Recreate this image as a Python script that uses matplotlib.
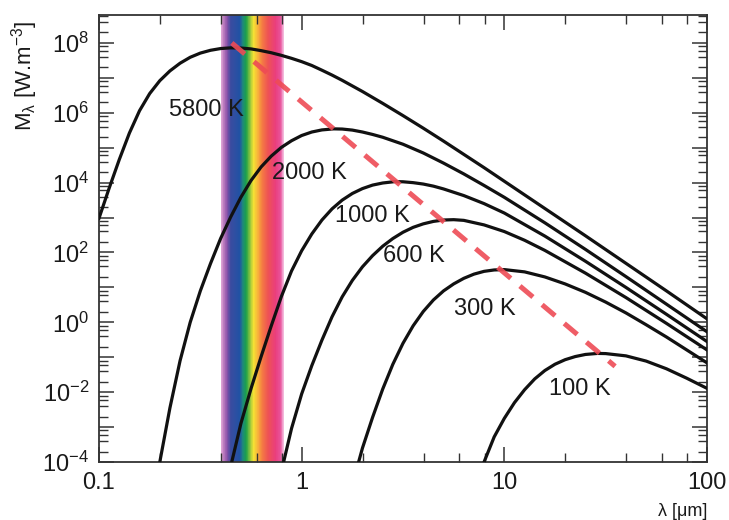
import numpy as np
import matplotlib.pyplot as plt
from matplotlib.colors import LinearSegmentedColormap
from matplotlib.ticker import LogLocator, FuncFormatter, NullFormatter

plt.rcParams['font.family'] = ['Liberation Sans', 'DejaVu Sans']
plt.rcParams['mathtext.default'] = 'regular'

# curves: log10(wavelength in um) and log10(M_lambda)
loglam_5800 = [-1.0, -0.95, -0.9, -0.85, -0.8, -0.75, -0.7, -0.65, -0.6, -0.55,
               -0.5, -0.45, -0.4, -0.35, -0.3, -0.25, -0.2, -0.15, -0.1, -0.05,
               0.0, 0.05, 0.1, 0.15, 0.2, 0.25, 0.3, 0.35, 0.4,
               0.5, 0.6, 0.7, 0.8, 0.9, 1.0, 1.2, 1.4, 1.6, 1.8, 2.0]
logm_5800 = [2.98, 3.84, 4.66, 5.42, 6.06, 6.55, 6.92, 7.20, 7.42, 7.59,
             7.71, 7.79, 7.84, 7.86, 7.855, 7.83, 7.78, 7.72, 7.645, 7.56,
             7.465, 7.355, 7.22, 7.08, 6.93, 6.77, 6.61, 6.44, 6.27,
             5.92, 5.56, 5.19, 4.81, 4.43, 4.04, 3.26, 2.48, 1.69, 0.9, 0.1]

loglam_2000 = [-0.7, -0.65, -0.6, -0.55, -0.5, -0.45, -0.4, -0.35, -0.3, -0.25,
               -0.2, -0.15, -0.1, -0.05, 0.0, 0.05, 0.1, 0.158, 0.2, 0.25, 0.3, 0.35, 0.4,
               0.5, 0.6, 0.7, 0.8, 0.9, 1.0, 1.2, 1.4, 1.6, 1.8, 2.0]
logm_2000 = [-4.0, -2.45, -1.1, 0.0, 0.9, 1.68, 2.4, 3.02, 3.58, 4.06,
             4.45, 4.76, 5.01, 5.2, 5.35, 5.45, 5.51, 5.54, 5.535, 5.505, 5.45, 5.38, 5.30,
             5.10, 4.85, 4.56, 4.25, 3.92, 3.58, 2.85, 2.09, 1.31, 0.52, -0.27]

loglam_1000 = [-0.345, -0.3, -0.25, -0.2, -0.15, -0.1, -0.05, 0.0, 0.05, 0.1,
               0.15, 0.2, 0.25, 0.3, 0.35, 0.4, 0.46, 0.5, 0.55, 0.6, 0.65, 0.7,
               0.8, 0.9, 1.0, 1.2, 1.4, 1.6, 1.8, 2.0]
logm_1000 = [-4.0, -2.9, -1.9, -0.98, -0.1, 0.74, 1.47, 2.05, 2.53, 2.93,
             3.25, 3.5, 3.69, 3.83, 3.93, 3.99, 4.03, 4.025, 4.0, 3.96, 3.9, 3.82,
             3.63, 3.4, 3.13, 2.47, 1.75, 1.0, 0.23, -0.55]

loglam_600 = [-0.089, -0.05, 0.0, 0.05, 0.1, 0.15, 0.2, 0.25, 0.3, 0.35,
              0.4, 0.45, 0.5, 0.55, 0.6, 0.65, 0.7, 0.75, 0.8,
              0.9, 1.0, 1.1, 1.2, 1.4, 1.6, 1.8, 2.0]
logm_600 = [-4.0, -3.04, -2.05, -1.24, -0.51, 0.16, 0.73, 1.2, 1.59, 1.91,
            2.18, 2.4, 2.58, 2.72, 2.82, 2.89, 2.93, 2.94, 2.92,
            2.79, 2.6, 2.35, 2.06, 1.41, 0.71, -0.03, -0.79]

loglam_300 = [0.281, 0.3, 0.35, 0.4, 0.45, 0.5, 0.55, 0.6, 0.65, 0.7, 0.75, 0.8,
              0.85, 0.9, 0.95, 1.0, 1.1, 1.2, 1.3, 1.4, 1.5, 1.6, 1.7, 1.8, 1.9, 2.0]
logm_300 = [-4.0, -3.6, -2.72, -1.91, -1.2, -0.6, -0.1, 0.31, 0.64, 0.9, 1.1, 1.26,
            1.38, 1.46, 1.5, 1.51, 1.445, 1.30, 1.1, 0.86, 0.58, 0.27, -0.07, -0.42, -0.79, -1.16]

loglam_100 = [0.9, 0.95, 1.0, 1.05, 1.1, 1.15, 1.2, 1.25, 1.3, 1.35, 1.4, 1.46,
              1.5, 1.6, 1.7, 1.8, 1.9, 2.0]
logm_100 = [-4.0, -3.28, -2.75, -2.3, -1.93, -1.62, -1.38, -1.2, -1.07, -0.98, -0.92, -0.89,
            -0.895, -0.96, -1.11, -1.33, -1.6, -1.89]

curve_lams = [loglam_5800, loglam_2000, loglam_1000, loglam_600, loglam_300, loglam_100]
curve_ms = [logm_5800, logm_2000, logm_1000, logm_600, logm_300, logm_100]

temp_labels = ['5800 K', '2000 K', '1000 K', '600 K', '300 K', '100 K']
label_lam = [0.34, 1.09, 2.24, 3.56, 8.05, 23.7]
label_m = [1.2e6, 1.9e4, 1.1e3, 82, 2.35, 0.0122]

# Wien displacement line (peak locus)
wien_lam = [0.452, 35.2]
wien_m = [1.0e8, 0.055]

# visible band
vis_lo, vis_hi = 0.398, 0.818
spec_stops = [0.0, 0.04, 0.10, 0.16, 0.30, 0.35, 0.40, 0.46, 0.52, 0.58, 0.66, 0.75, 0.87, 0.95, 1.0]
spec_cols = ['#E8B0DC', '#C080C0', '#8850A8', '#3A4CA0', '#2052A4', '#1E8A7A', '#1AA04A',
             '#8CC43E', '#F4E234', '#F8B83A', '#F47A44', '#EE5254', '#EA3E7C', '#E8529A', '#F4C0E0']

fig = plt.figure(figsize=(7.29, 5.20), dpi=100)
ax = fig.add_axes([0.1358, 0.1115, 0.8340, 0.8596])
ax.set_xscale('log')
ax.set_yscale('log')
ymin, ymax = 1e-4, 10 ** 8.8

spec = LinearSegmentedColormap.from_list('spec', list(zip(spec_stops, spec_cols)))
xe = np.geomspace(vis_lo, vis_hi, 161)
ax.pcolormesh(xe, [ymin, ymax], np.linspace(0, 1, 160)[None, :], cmap=spec,
              shading='flat', zorder=1)

for ll, lm in zip(curve_lams, curve_ms):
    ax.plot(10.0 ** np.array(ll), 10.0 ** np.array(lm), color='#111111', lw=2.3, zorder=3)

for t, x, y in zip(temp_labels, label_lam, label_m):
    ax.text(x, y, t, ha='center', va='center', fontsize=17, color='#1a1a1a', zorder=4)

ax.plot(wien_lam, wien_m, color='#EE4B55', lw=3.6, ls=(0, (3.4, 2.4)), alpha=0.9,
        dash_capstyle='butt', zorder=5)

ax.set_xlim(0.1, 100)
ax.set_ylim(ymin, ymax)

ax.set_xticks([0.1, 1, 10, 100])
ax.set_xticklabels(['0.1', '1', '10', '100'])
ax.xaxis.set_minor_locator(LogLocator(base=10, subs=(2, 4, 6, 8), numticks=30))
ax.xaxis.set_minor_formatter(NullFormatter())

ax.yaxis.set_major_locator(LogLocator(base=10, subs=(1.0,), numticks=30))
ax.yaxis.set_minor_locator(LogLocator(base=10, subs=(2, 4, 6, 8), numticks=30))
ax.yaxis.set_minor_formatter(NullFormatter())


def ylab(v, pos):
    e = int(round(np.log10(v)))
    return '$10^{%d}$' % e if e % 2 == 0 else ''


ax.yaxis.set_major_formatter(FuncFormatter(ylab))

ax.tick_params(which='both', direction='in', top=True, right=True, color='#333333',
               labelsize=17, labelcolor='#1a1a1a', pad=7)
ax.tick_params(which='major', length=11, width=1.1)
ax.tick_params(which='minor', length=6.5, width=1.0)
for s in ax.spines.values():
    s.set_linewidth(1.3)
    s.set_color('#333333')

fig.text(0.033, 0.854, r'M$_\lambda$ [W.m$^{-3}$]', rotation=90, ha='center', va='center',
         fontsize=16, color='#1a1a1a')
fig.text(0.970, 0.0173, 'λ [μm]', ha='right', va='center', fontsize=13, color='#1a1a1a')

fig.savefig('out.png', dpi=100)
